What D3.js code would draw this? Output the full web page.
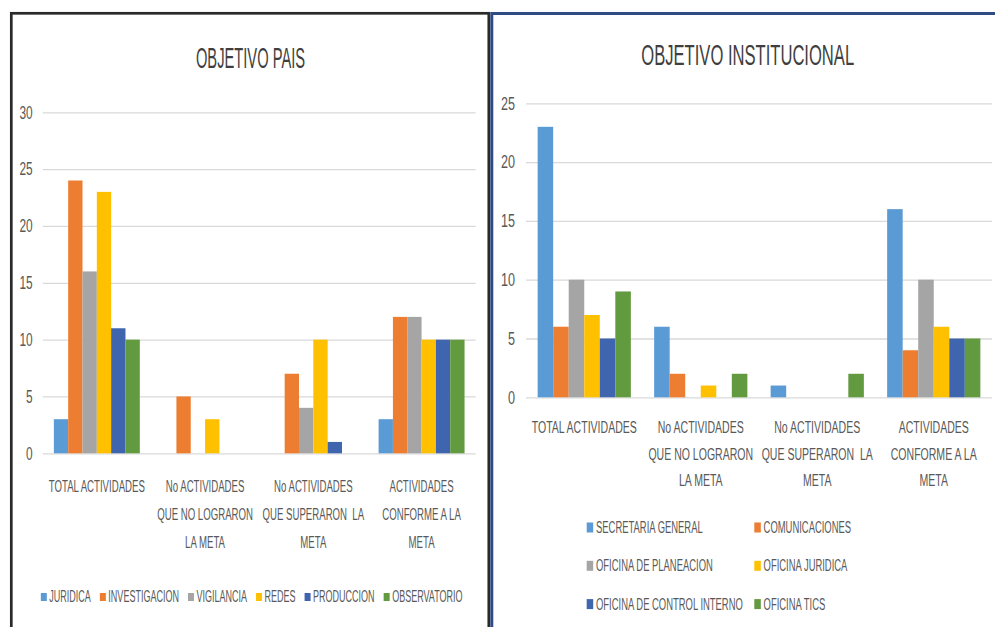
<!DOCTYPE html>
<html>
<head>
<meta charset="utf-8">
<script src="https://cdn.jsdelivr.net/npm/d3@7"></script>
<style>
  html, body { margin: 0; padding: 0; background: #ffffff; }
  svg { display: block; font-family: "Liberation Sans", Arial, sans-serif; }
  text { white-space: pre; }
</style>
</head>
<body>
<svg id="chart" width="995" height="627"></svg>
<script>
// ---------- DATA ----------
const categories = ["TOTAL ACTIVIDADES", "No ACTIVIDADES QUE NO LOGRARON LA META", "No ACTIVIDADES QUE SUPERARON  LA META", "ACTIVIDADES CONFORME A LA META"];
const categoryLines = [["TOTAL ACTIVIDADES"], ["No ACTIVIDADES", "QUE NO LOGRARON", "LA META"], ["No ACTIVIDADES", "QUE SUPERARON  LA", "META"], ["ACTIVIDADES", "CONFORME A LA", "META"]];

// Objetivo Pais
const paisTitle = "OBJETIVO PAIS";
const paisSeries = ["JURIDICA", "INVESTIGACION", "VIGILANCIA", "REDES", "PRODUCCION", "OBSERVATORIO"];
const paisJuridica      = [3, 0, 0, 3];
const paisInvestigacion = [24, 5, 7, 12];
const paisVigilancia    = [16, 0, 4, 12];
const paisRedes         = [23, 3, 10, 10];
const paisProduccion    = [11, 0, 1, 10];
const paisObservatorio  = [10, 0, 0, 10];
const paisTicks = [0, 5, 10, 15, 20, 25, 30];

// Objetivo Institucional
const instTitle = "OBJETIVO INSTITUCIONAL";
const instSeries = ["SECRETARIA GENERAL", "COMUNICACIONES", "OFICINA DE PLANEACION", "OFICINA JURIDICA", "OFICINA DE CONTROL INTERNO", "OFICINA TICS"];
const instSecretaria     = [23, 6, 1, 16];
const instComunicaciones = [6, 2, 0, 4];
const instPlaneacion     = [10, 0, 0, 10];
const instJuridica       = [7, 1, 0, 6];
const instControl        = [5, 0, 0, 5];
const instTics           = [9, 2, 2, 5];
const instTicks = [0, 5, 10, 15, 20, 25];

const colors = ["#5b9bd5", "#ed7d31", "#a5a5a5", "#ffc000", "#3e65ad", "#629a3f"];

// ---------- DRAW ----------
const svg = d3.select("#chart");

// panel frames
svg.append("rect").attr("x", 11.3).attr("y", 13.3).attr("width", 477.5).attr("height", 700)
  .attr("fill", "#ffffff").attr("stroke", "#2a2a2a").attr("stroke-width", 2.7);
svg.append("rect").attr("x", 491.8).attr("y", 13.5).attr("width", 600).attr("height", 700)
  .attr("fill", "#ffffff").attr("stroke", "#2f4b84").attr("stroke-width", 3);

function scaledText(parent, x, y, str, size, sx, anchor, fill) {
  return parent.append("text")
    .attr("transform", `translate(${x},${y}) scale(${sx},1)`)
    .attr("text-anchor", anchor)
    .attr("font-size", size)
    .attr("fill", fill)
    .text(str);
}

function drawChart(cfg) {
  const g = svg.append("g");
  const y = d3.scaleLinear().domain([0, d3.max(cfg.ticks)]).range([cfg.bottom, cfg.top]);
  const x0 = d3.scaleBand().domain(categories).range([cfg.left, cfg.right]);
  const bw = x0.bandwidth();
  const x1 = d3.scaleBand().domain(cfg.series).range([bw * cfg.inset, bw * (1 - cfg.inset)]);

  // title
  scaledText(g, cfg.titleX, cfg.titleY, cfg.title, cfg.titleSize, cfg.titleSx, "middle", "#3f3f3f");

  // gridlines + y tick labels
  const axis = d3.axisLeft(y).tickValues(cfg.ticks).tickSize(-(cfg.right - cfg.left)).tickPadding(cfg.tickPad);
  const ag = g.append("g").attr("transform", `translate(${cfg.left},0)`).call(axis);
  ag.select(".domain").remove();
  ag.selectAll(".tick line").attr("stroke", "#d9d9d9").attr("stroke-width", 1.3);
  ag.selectAll(".tick text")
    .attr("x", -cfg.tickPad / cfg.tickSx)
    .attr("transform", `scale(${cfg.tickSx},1)`)
    .attr("font-size", cfg.tickSize)
    .attr("fill", "#595959")
    .attr("font-family", null);

  // bars
  cfg.series.forEach((s, i) => {
    g.append("g").selectAll("rect")
      .data(cfg.values[i].map((v, j) => ({ cat: categories[j], v: v })))
      .join("rect")
      .attr("x", d => x0(d.cat) + x1(s))
      .attr("y", d => y(d.v))
      .attr("width", x1.bandwidth())
      .attr("height", d => y(0) - y(d.v))
      .attr("fill", colors[i]);
  });

  // category labels
  categories.forEach((c, j) => {
    const t = g.append("text")
      .attr("transform", `translate(${x0(c) + bw / 2},${cfg.catY}) scale(${cfg.catSx},1)`)
      .attr("text-anchor", "middle")
      .attr("font-size", cfg.catSize)
      .attr("fill", "#595959");
    categoryLines[j].forEach((line, k) => {
      t.append("tspan").attr("x", 0).attr("dy", k === 0 ? 0 : cfg.catLine).text(line);
    });
  });

  return g;
}

// Left chart
const gl = drawChart({
  title: paisTitle, titleX: 250.5, titleY: 68, titleSize: 30, titleSx: 0.49,
  series: paisSeries,
  values: [paisJuridica, paisInvestigacion, paisVigilancia, paisRedes, paisProduccion, paisObservatorio],
  ticks: paisTicks, left: 42.7, right: 475.7, top: 112.3, bottom: 453.3, inset: 0.103,
  tickPad: 10, tickSize: 18, tickSx: 0.66,
  catY: 492, catSize: 17, catSx: 0.567, catLine: 28
});

// Left legend (horizontal, centered)
(function () {
  const lg = gl.append("g");
  const sx = 0.53, size = 17, sq = 6, gapIn = 2.5, gapOut = 9;
  let x = 0;
  const items = [];
  paisSeries.forEach((s, i) => {
    const r = lg.append("rect").attr("width", sq).attr("height", 8).attr("fill", colors[i]);
    const t = lg.append("text").attr("font-size", size).attr("fill", "#595959").text(s);
    const w = t.node().getComputedTextLength() * sx;
    items.push({ r, t, x });
    x += sq + gapIn + w + gapOut;
  });
  const total = x - gapOut;
  const start = 251.7 - total / 2;
  const base = 601.5;
  items.forEach(it => {
    it.r.attr("x", start + it.x).attr("y", base - 8.5);
    it.t.attr("transform", `translate(${start + it.x + sq + gapIn},${base}) scale(${sx},1)`);
  });
})();

// Right chart
const gr = drawChart({
  title: instTitle, titleX: 747.7, titleY: 64.5, titleSize: 30, titleSx: 0.553,
  series: instSeries,
  values: [instSecretaria, instComunicaciones, instPlaneacion, instJuridica, instControl, instTics],
  ticks: instTicks, left: 526, right: 992, top: 103.3, bottom: 397.3, inset: 0.1,
  tickPad: 11, tickSize: 18, tickSx: 0.7,
  catY: 433, catSize: 17, catSx: 0.62, catLine: 26.7
});

// Right legend (2 columns x 3 rows)
(function () {
  const lg = gr.append("g");
  const sx = 0.555, size = 17, sq = 6.5, gapIn = 2.8;
  const originX = 586.7, colW = 167.6, firstBase = 533, rowH = 38.3;
  instSeries.forEach((s, i) => {
    const col = i % 2, row = Math.floor(i / 2);
    const x = originX + col * colW, base = firstBase + row * rowH;
    lg.append("rect").attr("x", x).attr("y", base - 10.5).attr("width", sq).attr("height", 10).attr("fill", colors[i]);
    scaledText(lg, x + sq + gapIn, base, s, size, sx, "start", "#595959");
  });
})();
</script>
</body>
</html>
